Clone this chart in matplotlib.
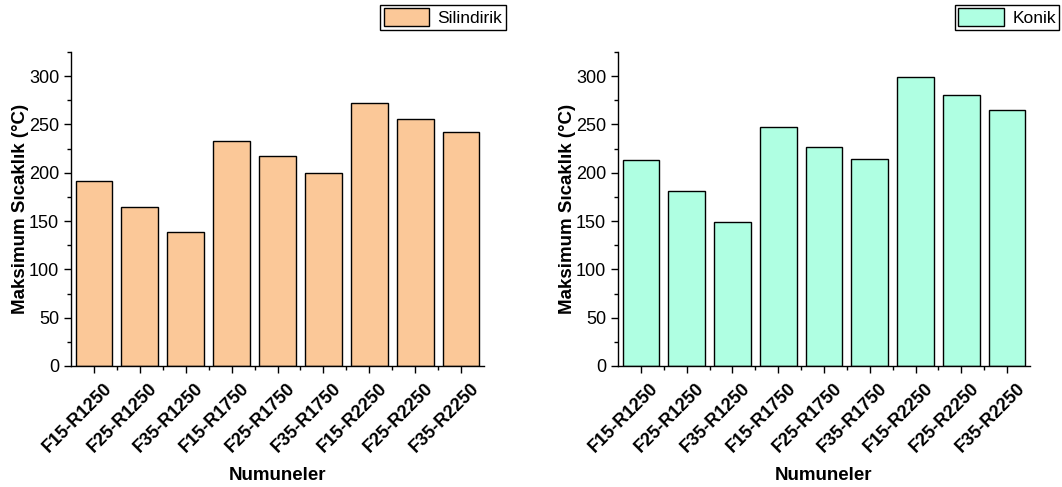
import matplotlib
matplotlib.use("Agg")
import matplotlib.pyplot as plt
import matplotlib.transforms as mtransforms
import numpy as np
from matplotlib.ticker import MultipleLocator

plt.rcParams['font.family'] = ['Liberation Sans', 'DejaVu Sans']

# numune isimleri ve degerler
samples = ["F15-R1250", "F25-R1250", "F35-R1250",
           "F15-R1750", "F25-R1750", "F35-R1750",
           "F15-R2250", "F25-R2250", "F35-R2250"]
silindirik = [191, 165, 139, 233, 217, 200, 272, 256, 242]
konik = [213, 181, 149, 247, 227, 214, 299, 281, 265]

fig = plt.figure(figsize=(10.62, 4.87), dpi=100)
W, H = 1062.0, 487.0

def make_panel(rect, vals, color, label, leg_anchor, leg_loc):
    ax = fig.add_axes(rect)
    x = np.arange(len(samples))
    ax.bar(x, vals, width=0.8, color=color, edgecolor='black', linewidth=1.0, label=label)
    ax.set_xlim(-0.5, len(samples) - 0.5)
    ax.set_ylim(0, 325)
    ax.yaxis.set_major_locator(MultipleLocator(50))
    ax.yaxis.set_minor_locator(MultipleLocator(25))
    ax.set_xticks(x)
    ax.set_xticks(x[:-1] + 0.5, minor=True)
    ax.tick_params(axis='y', labelsize=13)
    ax.tick_params(which='major', direction='out', length=5, width=1)
    ax.tick_params(which='minor', direction='out', length=3, width=1)
    ax.tick_params(axis='x', which='major', pad=5)
    ax.set_xticklabels(samples, rotation=45, ha='right', rotation_mode='anchor',
                       fontweight='bold', fontsize=13)
    # etiketleri biraz saga kaydir (Origin gibi)
    off = mtransforms.ScaledTranslation(6.5 / 72, 0, fig.dpi_scale_trans)
    for t in ax.get_xticklabels():
        t.set_transform(t.get_transform() + off)
    for s in ['top', 'right']:
        ax.spines[s].set_visible(False)
    for s in ['left', 'bottom']:
        ax.spines[s].set_linewidth(1.0)
    ax.set_ylabel("Maksimum Sıcaklık (°C)", fontweight='bold', fontsize=13.5, labelpad=0)
    ax.set_xlabel("Numuneler", fontweight='bold', fontsize=13.5, labelpad=8)
    ax.legend(loc=leg_loc, bbox_to_anchor=leg_anchor, bbox_transform=fig.transFigure,
              fancybox=False, edgecolor='black', framealpha=1, fontsize=12.5,
              handlelength=2.6, handleheight=1.2, handletextpad=0.5,
              borderpad=0.2, borderaxespad=0)
    return ax

ax1 = make_panel([71 / W, 1 - 366 / H, 413 / W, 314 / H], silindirik, '#FBC898',
                 'Silindirik', (506 / W, 1 - 5 / H), 'upper right')
ax2 = make_panel([618 / W, 1 - 366 / H, 412 / W, 314 / H], konik, '#AFFFE2',
                 'Konik', (955 / W, 1 - 5 / H), 'upper left')

fig.savefig("out.png", dpi=100)
